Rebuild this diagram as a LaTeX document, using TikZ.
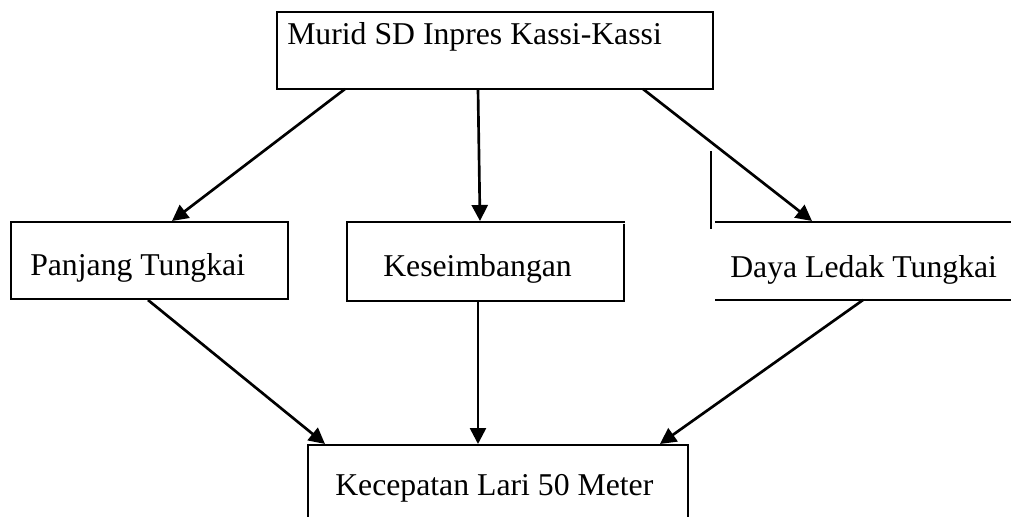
\documentclass[tikz,border=0pt]{standalone}
\usepackage{fontspec}
\setmainfont{Liberation Serif}
\usetikzlibrary{arrows.meta}
\begin{document}
\begin{tikzpicture}[x=0.75pt,y=-0.75pt,
  boxline/.style={line width=1.6pt, line cap=rect},
  lbl/.style={anchor=base west, inner sep=0pt, font=\fontsize{23.8}{28}\selectfont},
  arr/.style={line width=2pt, -{Triangle[length=12pt,width=12pt]}}]
\useasboundingbox (0,0) rectangle (1011,517);
% boxes
\draw[boxline] (277,12) rectangle (713,89);
\draw[boxline] (11,222) rectangle (288,299);
\draw[boxline] (624,225) -- (624,301) -- (347,301) -- (347,222) -- (624,222);
\draw[boxline] (711,152) -- (711,228);
\draw[boxline] (716,222) -- (1011,222);
\draw[boxline] (716,300) -- (1011,300);
\draw[boxline] (308,517) -- (308,445) -- (688,445) -- (688,517);
% labels
\node[lbl] (top) at (287,45) {Murid SD Inpres Kassi-Kassi};
\node[lbl] (pt) at (30,275) {Panjang Tungkai};
\node[lbl] (ks) at (383,276) {Keseimbangan};
\node[lbl] (dl) at (730,277) {Daya Ledak Tungkai};
\node[lbl] (kl) at (335,495) {Kecepatan Lari 50 Meter};
% connector ends
\coordinate (t1) at (345,89);
\coordinate (t2) at (478,89);
\coordinate (t3) at (643,89);
\coordinate (p1) at (172,221);
\coordinate (k1) at (480,221);
\coordinate (d1) at (812,221);
\coordinate (p2) at (148,300);
\coordinate (k2) at (478,301);
\coordinate (d2) at (863,300);
\coordinate (b1) at (325,444);
\coordinate (b2) at (478,444);
\coordinate (b3) at (660,444);
\draw[arr] (t1) -- (p1);
\draw[arr] (t2) -- (k1);
\draw[arr] (t3) -- (d1);
\draw[arr] (p2) -- (b1);
\draw[arr] (k2) -- (b2);
\draw[arr] (d2) -- (b3);
\end{tikzpicture}
\end{document}
